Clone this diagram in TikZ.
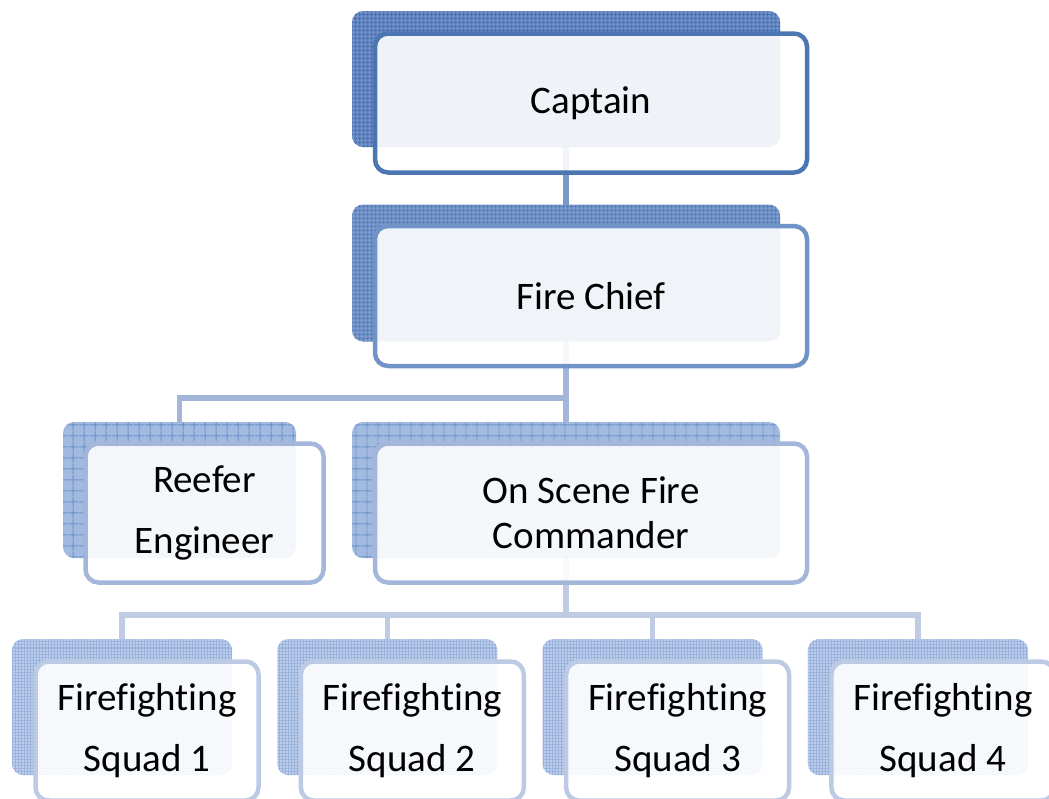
\documentclass[tikz,border=0pt]{standalone}
\usepackage{fontspec}
\setmainfont{Carlito}[Ligatures=NoCommon,RawFeature={-liga}]
\usepackage{tikz}
\usetikzlibrary{positioning,backgrounds,patterns.meta}
\definecolor{rimTop}{HTML}{4C76B2}
\definecolor{rimChief}{HTML}{7194C8}
\definecolor{rimMid}{HTML}{A4B7DA}
\definecolor{rimLow}{HTML}{BDCAE3}
\definecolor{shTop}{HTML}{6E90C8}
\definecolor{shChief}{HTML}{7A99CC}
\definecolor{shMid}{HTML}{A2BAE0}
\definecolor{shLow}{HTML}{BCCEEC}
\definecolor{grTop}{HTML}{4A70AE}
\definecolor{grChief}{HTML}{5A7EBA}
\definecolor{grMid}{HTML}{6E91C9}
\definecolor{grLow}{HTML}{98B2DC}
\definecolor{lnTop}{HTML}{7A98C9}
\definecolor{lnMid}{HTML}{A3B5D8}
\definecolor{lnLow}{HTML}{BFCBE3}
\tikzset{
  card/.style={draw,line width=4.5pt,rounded corners=13pt,fill=white,fill opacity=0.9,
    text opacity=1,align=center,inner sep=0pt,font=\fontsize{39}{47}\selectfont},
  shade/.style={rounded corners=11pt,inner sep=0pt},
  grid/.style 2 args={postaction={pattern={Hatch[angle=0,distance=#1,line width=1pt]},pattern color=#2}},
  link/.style={line width=5.5pt}
}

\begin{document}
\begin{tikzpicture}[x=1pt,y=-1pt]
\useasboundingbox (0,0) rectangle (1049,798);

% top two levels
\node[shade,fill=shTop,grid={4pt}{grTop},minimum width=428pt,minimum height=136pt] (capS) at (566,79) {};
\node[card,draw=rimTop,minimum width=432pt,minimum height=139pt] (cap) at ([shift={(25,24)}]capS.center) {Captain};

\node[shade,fill=shChief,grid={4pt}{grChief},minimum width=428pt,minimum height=137pt] (chiefS) at (566,273) {};
\node[card,draw=rimChief,minimum width=432pt,minimum height=140pt] (chief) at ([shift={(25,23)}]chiefS.center) {Fire Chief};

% middle level
\node[shade,fill=shMid,grid={10.5pt}{grMid},minimum width=233pt,minimum height=136pt] (reefS) at (179.5,490) {};
\node[card,draw=rimMid,minimum width=238pt,minimum height=139pt] (reef) at ([shift={(25,23)}]reefS.center) {Reefer\\[14pt]Engineer};

\node[shade,fill=shMid,grid={10.5pt}{grMid},minimum width=428pt,minimum height=136pt] (oscS) at (566,490) {};
\node[card,draw=rimMid,minimum width=432pt,minimum height=139pt,font=\fontsize{39}{45}\selectfont] (osc) at ([shift={(25,23)}]oscS.center) {On Scene Fire\\Commander};

% squads
\foreach \i in {1,...,4}{
  \node[shade,fill=shLow,grid={3pt}{grLow},minimum width=220pt,minimum height=136pt] (sq\i S) at ({122+265.3*(\i-1)},707) {};
  \node[card,draw=rimLow,minimum width=223pt,minimum height=139pt] (sq\i) at ([shift={(25,24)}]sq\i S.center) {Firefighting\\[14pt]Squad \i};
}

\coordinate (bus1) at (566,398);
\coordinate (bus2) at (566,615);

\begin{scope}[on background layer]
\draw[link,lnTop] (capS.center) -- (chiefS.center);
\draw[link,lnMid] (chiefS.center) -- (bus1) -| (reefS.center);
\draw[link,lnMid] (bus1) -- (oscS.center);
\draw[link,lnLow] (oscS.center) -- (bus2);
\foreach \i in {1,...,4}
  \draw[link,lnLow] (bus2) -| (sq\i S.center);
\end{scope}
\end{tikzpicture}
\end{document}
